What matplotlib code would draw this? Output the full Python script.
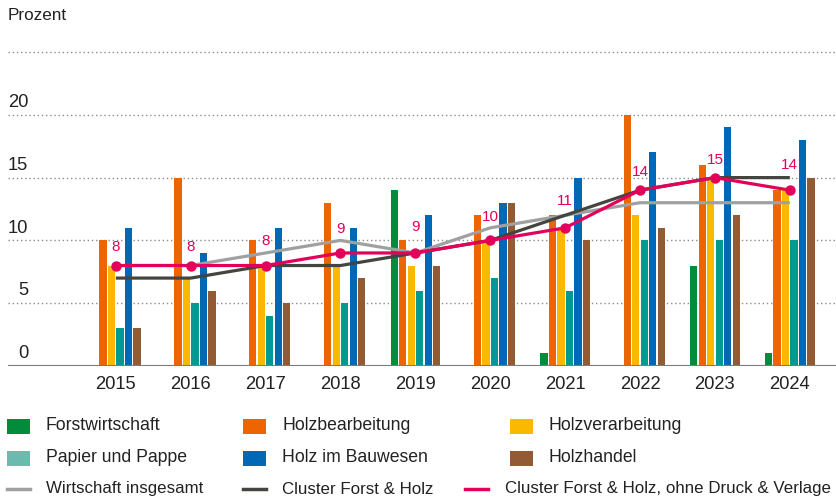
import numpy as np
import matplotlib
matplotlib.use("Agg")
import matplotlib.pyplot as plt
from matplotlib.patches import Rectangle
from matplotlib.lines import Line2D
from matplotlib.transforms import blended_transform_factory

plt.rcParams["font.family"] = ["Liberation Sans", "DejaVu Sans"]

# ---------------------------------------------------------------------------
# Daten (Prozent)
# ---------------------------------------------------------------------------
YEARS = [2015, 2016, 2017, 2018, 2019, 2020, 2021, 2022, 2023, 2024]

FORSTWIRTSCHAFT   = [0, 0, 0, 0, 14, 0, 1, 0, 8, 1]
HOLZBEARBEITUNG   = [10, 15, 10, 13, 10, 12, 12, 20, 16, 14]
HOLZVERARBEITUNG  = [8, 7, 8, 8, 8, 10, 11, 12, 15, 14]
PAPIER_PAPPE      = [3, 5, 4, 5, 6, 7, 6, 10, 10, 10]
HOLZ_BAUWESEN     = [11, 9, 11, 11, 12, 13, 15, 17, 19, 18]
HOLZHANDEL        = [3, 6, 5, 7, 8, 13, 10, 11, 12, 15]

WIRTSCHAFT_GESAMT = [8, 8, 9, 10, 9, 11, 12, 13, 13, 13]
CLUSTER           = [7, 7, 8, 8, 9, 10, 12, 14, 15, 15]
CLUSTER_OHNE      = [8, 8, 8, 9, 9, 10, 11, 14, 15, 14]

BAR_SERIES = [
    ("Forstwirtschaft", FORSTWIRTSCHAFT, "#008C3A", "#008C3A"),
    ("Holzbearbeitung", HOLZBEARBEITUNG, "#EC6500", "#EC6500"),
    ("Holzverarbeitung", HOLZVERARBEITUNG, "#FAB900", "#FAB900"),
    ("Papier und Pappe", PAPIER_PAPPE, "#009A93", "#6BBAAE"),
    ("Holz im Bauwesen", HOLZ_BAUWESEN, "#0068B4", "#0068B4"),
    ("Holzhandel", HOLZHANDEL, "#935B33", "#935B33"),
]

GRAY = "#A0A0A0"
DARK = "#45453F"
RED = "#E2005A"
TEXT = "#222222"

# Abstand der roten Beschriftungen über den Punkten (in Punkt)
LABEL_DY = [13, 13, 18, 17, 19, 17, 19, 13, 13, 18]

W, H = 837, 501


def fx(px):
    return px / W


def fy(py):
    return 1 - py / H


fig = plt.figure(figsize=(W / 100, H / 100), dpi=100)

# Achse: y=0 bei 366 px, y=25 bei 52 px
y_top = 25.3
ppu = (366 - 52) / 25
ax_top_px = 366 - y_top * ppu
ax = fig.add_axes([fx(8), fy(366), fx(837) - fx(8), (366 - ax_top_px) / H])

x = np.arange(len(YEARS))
step = 0.1135
width = 0.097
n = len(BAR_SERIES)
for i, (name, vals, col, _) in enumerate(BAR_SERIES):
    ax.bar(x + (i - (n - 1) / 2) * step, vals, width=width, color=col,
           linewidth=0, zorder=2)

ax.plot(x, WIRTSCHAFT_GESAMT, color=GRAY, lw=2.3, zorder=3,
        solid_capstyle="butt")
ax.plot(x, CLUSTER, color=DARK, lw=2.3, zorder=4, solid_capstyle="butt")
ax.plot(x, CLUSTER_OHNE, color=RED, lw=2.3, zorder=5, marker="o",
        markersize=7.5, markeredgewidth=0)

for xi, v, dy in zip(x, CLUSTER_OHNE, LABEL_DY):
    ax.annotate(str(v), (xi, v), xytext=(0, dy), textcoords="offset points",
                ha="center", va="center", color=RED, fontsize=11,
                fontweight="medium", zorder=6)

ax.set_xlim(-1.44, 9.63)
ax.set_ylim(0, y_top)

for yv in [5, 10, 15, 20, 25]:
    ax.axhline(yv, color="#8C8C8C", lw=1, linestyle=(0, (1, 2)), zorder=1)
ax.axhline(0, color="#7A7A7A", lw=1.5, zorder=3)

trans = blended_transform_factory(ax.transAxes, ax.transData)
for yv in [0, 5, 10, 15, 20]:
    ax.text(0.0245, yv + 0.3, str(yv), transform=trans, ha="right",
            va="bottom", fontsize=13.2, color=TEXT)

ax.set_xticks(x)
ax.set_xticklabels([str(y) for y in YEARS], fontsize=13.2, color=TEXT)
ax.tick_params(axis="x", length=0, pad=7)
ax.set_yticks([])
for s in ax.spines.values():
    s.set_visible(False)

fig.text(fx(8), fy(16), "Prozent", fontsize=12.3, color=TEXT,
         ha="left", va="center")

# Legende (manuell platziert)
patch_cols = [(7, 46), (243, 282), (510, 549)]
rows = [426, 458]
for idx, (name, _, _, lcol) in enumerate(BAR_SERIES):
    r, c = divmod(idx, 3)
    px, tx = patch_cols[c]
    yc = rows[r]
    fig.add_artist(Rectangle((fx(px), fy(yc + 7.5)), 23 / W, 15 / H,
                             transform=fig.transFigure, color=lcol, lw=0))
    fig.text(fx(tx), fy(yc), name, fontsize=12.7, color=TEXT,
             ha="left", va="center")

line_items = [
    ("Wirtschaft insgesamt", GRAY, 7, 46),
    ("Cluster Forst & Holz", DARK, 243, 282),
    ("Cluster Forst & Holz, ohne Druck & Verlage", RED, 465, 505),
]
for name, col, px, tx in line_items:
    yc = 489
    fig.add_artist(Line2D([fx(px), fx(px + 23)], [fy(yc), fy(yc)],
                          transform=fig.transFigure, color=col, lw=2.5))
    fig.text(fx(tx), fy(yc), name, fontsize=12.2, color=TEXT,
             ha="left", va="center")

fig.savefig("out.png", dpi=100)
